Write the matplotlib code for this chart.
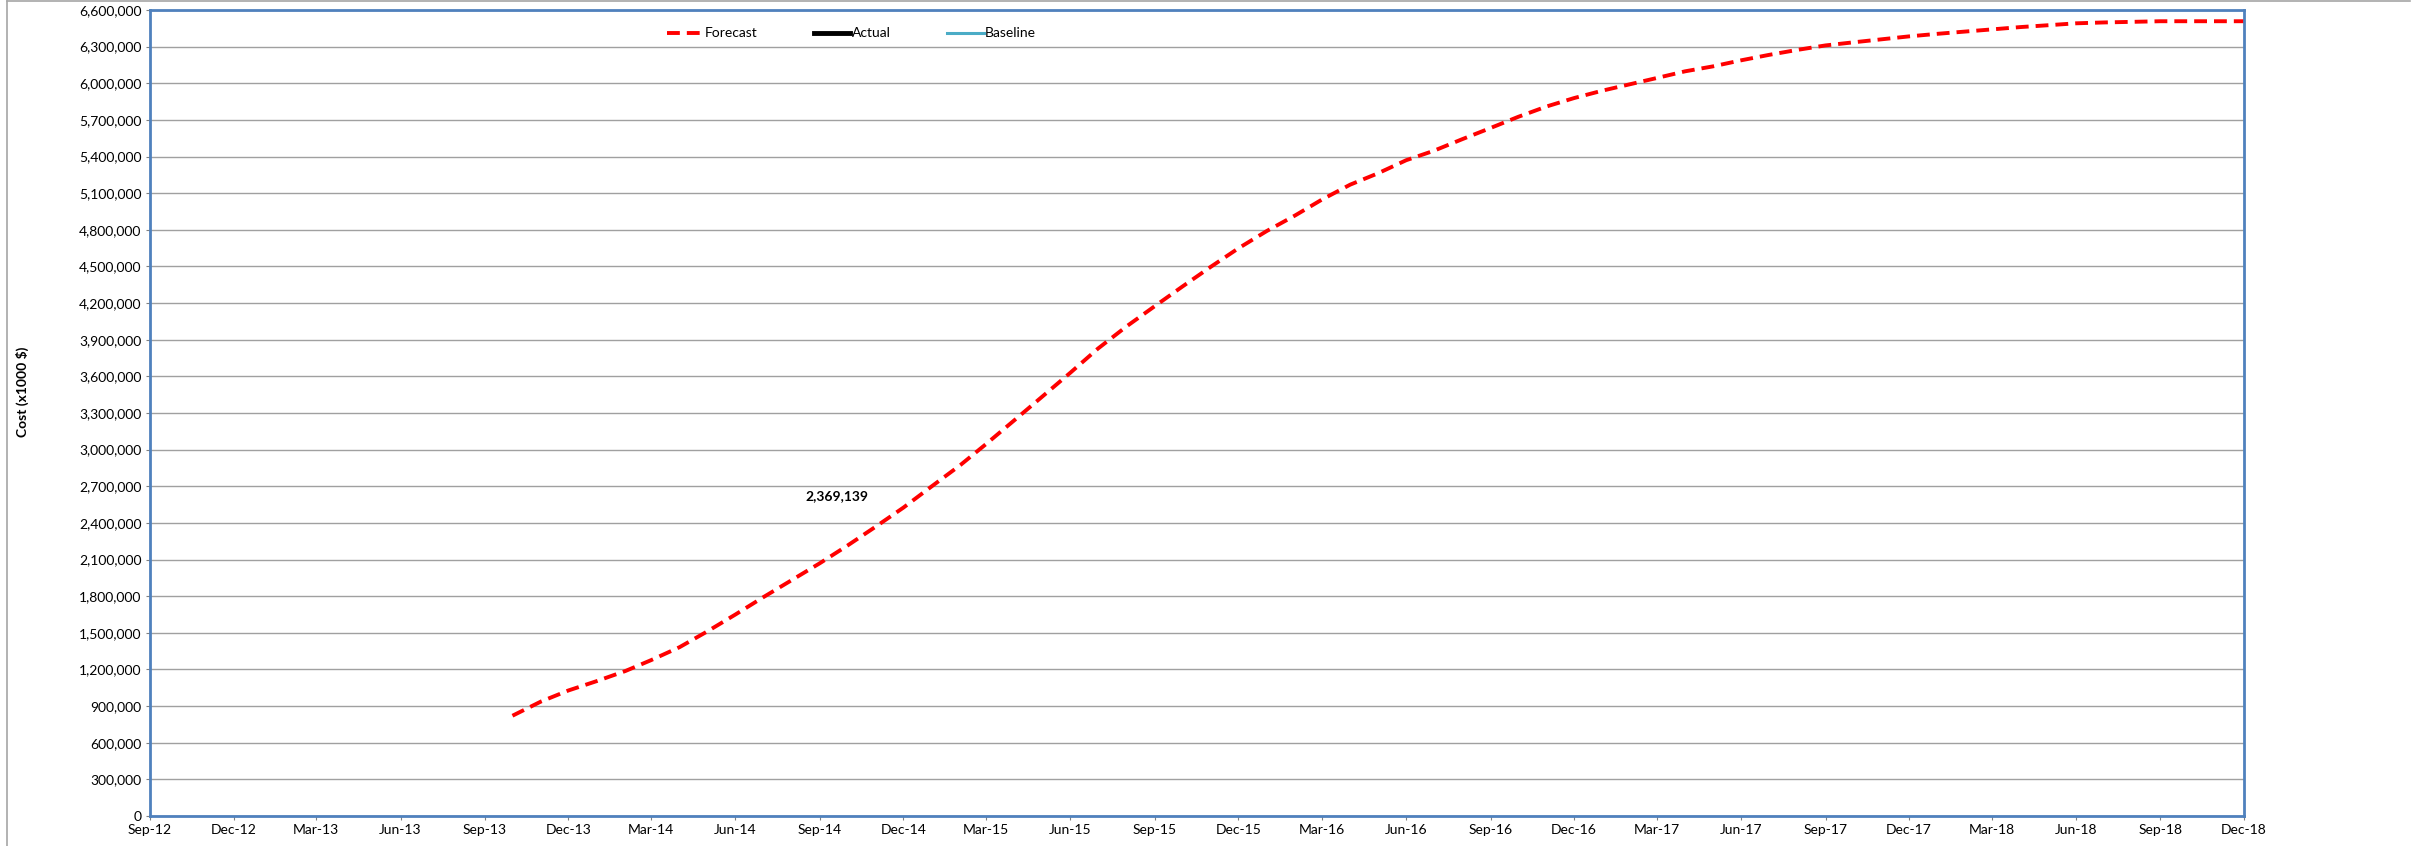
import datetime as dt
import matplotlib
matplotlib.use("Agg")
import matplotlib.pyplot as plt
import matplotlib.dates as mdates
from matplotlib.ticker import FuncFormatter, MultipleLocator
from matplotlib.lines import Line2D

plt.rcParams['font.family'] = ['Lato', 'DejaVu Sans']

# Forecast series, monthly from Oct-13 to Dec-18 (x1000 $)
forecast_months = [dt.date(2013 + (9 + i) // 12, (9 + i) % 12 + 1, 1) for i in range(63)]
forecast_values = [
    821000, 937000, 1028000,
    1105000, 1187000, 1276000, 1382000, 1510000, 1650000,
    1790000, 1930000, 2070000, 2214000, 2370000, 2525000,
    2700000, 2873000, 3045000, 3241000, 3432000, 3630000,
    3827000, 4008000, 4175000, 4335000, 4497000, 4648000,
    4790000, 4918000, 5047000, 5170000, 5262000, 5370000,
    5447000, 5542000, 5634000, 5725000, 5810000, 5879000,
    5940000, 5994000, 6043000, 6098000, 6138000, 6188000,
    6232000, 6273000, 6310000, 6335000, 6360000, 6384000,
    6405000, 6424000, 6441000, 6460000, 6475000, 6491000,
    6498000, 6503000, 6508000, 6508000, 6508000, 6508000,
]
actual_months = []
actual_values = []
baseline_months = []
baseline_values = []

# quarterly ticks Sep-12 .. Dec-18
tick_dates = [dt.date(2012 + (8 + 3 * i) // 12, (8 + 3 * i) % 12 + 1, 1) for i in range(26)]
label_text = "2,369,139"
label_pos = (dt.date(2014, 9, 20), 2620000)

fig = plt.figure(figsize=(24.11, 8.46), dpi=100)
ax = fig.add_axes([150 / 2411, 30 / 846, 2094 / 2411, 806 / 846])

ax.plot(forecast_months, forecast_values, color='#FF0000', lw=2.8,
        linestyle=(0, (3.3, 1.8)), label='Forecast')
ax.plot(actual_months, actual_values, color='black', lw=3.5, label='Actual')
ax.plot(baseline_months, baseline_values, color='#4BACC6', lw=2.2, label='Baseline')

ax.set_xlim(tick_dates[0], tick_dates[-1])
ax.set_ylim(0, 6600000)
ax.set_xticks(tick_dates)
ax.xaxis.set_major_formatter(mdates.DateFormatter('%b-%y'))
ax.yaxis.set_major_locator(MultipleLocator(300000))
ax.yaxis.set_major_formatter(FuncFormatter(lambda v, p: f"{int(v):,}"))
ax.tick_params(axis='both', labelsize=10, length=3, width=0.8, color='#808080',
               pad=3, labelcolor='black')

ax.grid(axis='y', color='#A0A0A0', lw=1)
ax.set_axisbelow(True)
for s in ax.spines.values():
    s.set_color('#4F81BD')
    s.set_linewidth(2)

ax.text(label_pos[0], label_pos[1], label_text, fontsize=10, fontweight='bold',
        ha='center', va='center')

fig.text(22 / 2411, 1 - 392 / 846, 'Cost (x1000 $)', rotation=90, fontsize=10,
         fontweight='bold', ha='center', va='center')

leg = ax.legend(loc='center', bbox_to_anchor=(0.335, 0.971), ncol=3, frameon=False,
                fontsize=10, handlelength=2.6, handletextpad=0.1, columnspacing=4.1)

# outer chart area border
fig.add_artist(Line2D([7 / 2411, 7 / 2411], [0, 1 - 1.5 / 846], color='#A6A6A6', lw=1.2))
fig.add_artist(Line2D([7 / 2411, 2409.5 / 2411], [1 - 1.5 / 846, 1 - 1.5 / 846], color='#A6A6A6', lw=1.2))

fig.savefig('out.png', dpi=100)
